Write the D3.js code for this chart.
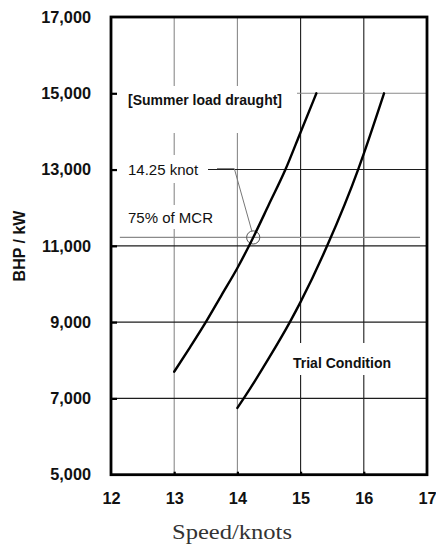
<!DOCTYPE html>
<html><head><meta charset="utf-8">
<script src="https://cdn.jsdelivr.net/npm/d3@7"></script>
<style>html,body{margin:0;padding:0;background:#fff}svg{display:block}</style>
</head><body><svg id="chart" width="436" height="545"></svg>
<script>
// Axis ticks
const speedTicks = [12, 13, 14, 15, 16, 17];
const powerTicks = [5000, 7000, 9000, 11000, 13000, 15000, 17000];

// Power curve, summer load draught
const summerSpeed = [13.0, 13.25, 13.5, 13.75, 14.0, 14.25, 14.5, 14.76, 15.0, 15.25];
const summerPower = [7700, 8340, 9000, 9710, 10420, 11220, 12090, 13000, 13980, 15000];

// Power curve, trial condition
const trialSpeed = [14.0, 14.1, 14.5, 14.83, 15.0, 15.42, 15.91, 16.0, 16.32];
const trialPower = [6750, 7000, 8060, 9000, 9530, 11000, 13000, 13420, 15000];

// Service point: 75% of MCR
const mcrSpeed = 14.25;
const mcrPower = 11220;

const svg = d3.select("#chart");
const x = d3.scaleLinear().domain([12, 17]).range([111, 427]);
const y = d3.scaleLinear().domain([5000, 17000]).range([474.7, 17]);
const fmt = d3.format(",");
const GREY = "#8a8a8a", DARK = "#1c1c1c";
const font = "'Liberation Sans', Arial, sans-serif";

// grid
const g = svg.append("g");
g.selectAll("line.v").data(speedTicks.slice(1, -1)).join("line")
  .attr("x1", d => x(d)).attr("x2", d => x(d))
  .attr("y1", y(17000)).attr("y2", y(5000))
  .attr("stroke", d => d < 15 ? GREY : DARK).attr("stroke-width", 1.1);
g.selectAll("line.h").data(powerTicks.slice(1, -1)).join("line")
  .attr("x1", x(12)).attr("x2", x(17))
  .attr("y1", d => y(d)).attr("y2", d => y(d))
  .attr("stroke", d => d === 15000 ? GREY : DARK).attr("stroke-width", 1.1);

// label backgrounds break the grid
const boxes = [
  [112, 86, 297, 133],
  [112, 155, 208, 183],
  [112, 205, 216, 229],
  [289, 343, 397, 375]
];
g.selectAll("rect").data(boxes).join("rect")
  .attr("x", d => d[0]).attr("y", d => d[1])
  .attr("width", d => d[2] - d[0]).attr("height", d => d[3] - d[1])
  .attr("fill", "#fff");

// 75% MCR line, circle and leader
svg.append("line")
  .attr("x1", x(12.14)).attr("x2", x(16.89))
  .attr("y1", y(mcrPower)).attr("y2", y(mcrPower))
  .attr("stroke", GREY).attr("stroke-width", 1.2);
svg.append("circle")
  .attr("cx", x(mcrSpeed)).attr("cy", y(mcrPower)).attr("r", 6.6)
  .attr("fill", "none").attr("stroke", "#555").attr("stroke-width", 1);
svg.append("polyline")
  .attr("points", [[217, y(13000) - 1], [234.3, y(13000) - 1], [x(mcrSpeed) - 1.3, y(mcrPower) - 6.2]].map(p => p.join(",")).join(" "))
  .attr("fill", "none").attr("stroke", "#777").attr("stroke-width", 1);

// curves
const line = d3.line().x(d => x(d[0])).y(d => y(d[1])).curve(d3.curveMonotoneX);
[[summerSpeed, summerPower], [trialSpeed, trialPower]].forEach(([s, p]) => {
  svg.append("path").datum(s.map((v, i) => [v, p[i]]))
    .attr("d", line).attr("fill", "none")
    .attr("stroke", "#000").attr("stroke-width", 2.4)
    .attr("stroke-linejoin", "round").attr("stroke-linecap", "round");
});

// frame
svg.append("rect")
  .attr("x", x(12)).attr("y", y(17000))
  .attr("width", x(17) - x(12)).attr("height", y(5000) - y(17000))
  .attr("fill", "none").attr("stroke", "#000").attr("stroke-width", 2.8);

// axes
const yAxis = svg.append("g").attr("transform", `translate(${x(12)},0)`)
  .call(d3.axisLeft(y).tickValues(powerTicks).tickFormat(fmt).tickSize(-6).tickPadding(20));
const xAxis = svg.append("g").attr("transform", `translate(0,${y(5000)})`)
  .call(d3.axisBottom(x).tickValues(speedTicks).tickFormat(d3.format("d")).tickSize(-3).tickPadding(18));
[yAxis, xAxis].forEach(a => {
  a.select(".domain").remove();
  a.selectAll(".tick line").attr("stroke", "#000").attr("stroke-width", 2.2);
  a.selectAll("text").attr("font-family", font).attr("font-weight", "bold")
    .attr("font-size", 16.3).attr("fill", "#111");
});
yAxis.selectAll(".tick").filter(d => d === 5000 || d === 17000).select("line").remove();
xAxis.selectAll(".tick").filter(d => d === 12 || d === 17).select("line").remove();

// axis titles
svg.append("text")
  .attr("transform", "translate(25,246) rotate(-90)")
  .attr("text-anchor", "middle").attr("font-family", font).attr("font-weight", "bold")
  .attr("font-size", 16).attr("fill", "#111").text("BHP / kW");
svg.append("text")
  .attr("x", 172).attr("y", 539)
  .attr("font-family", "'Liberation Serif', 'Times New Roman', serif")
  .attr("font-size", 21).attr("fill", "#333")
  .attr("textLength", 120).attr("lengthAdjust", "spacingAndGlyphs")
  .text("Speed/knots");

// annotations
const ann = [
  ["[Summer load draught]", 128, 105, "bold", 14],
  ["14.25 knot", 128, 174.5, "normal", 15],
  ["75% of MCR", 128, 223, "normal", 15],
  ["Trial Condition", 293, 368, "bold", 14]
];
svg.selectAll("text.ann").data(ann).join("text").attr("class", "ann")
  .attr("x", d => d[1]).attr("y", d => d[2])
  .attr("font-family", font).attr("font-weight", d => d[3]).attr("font-size", d => d[4])
  .attr("fill", "#111").text(d => d[0]);
</script></body></html>
